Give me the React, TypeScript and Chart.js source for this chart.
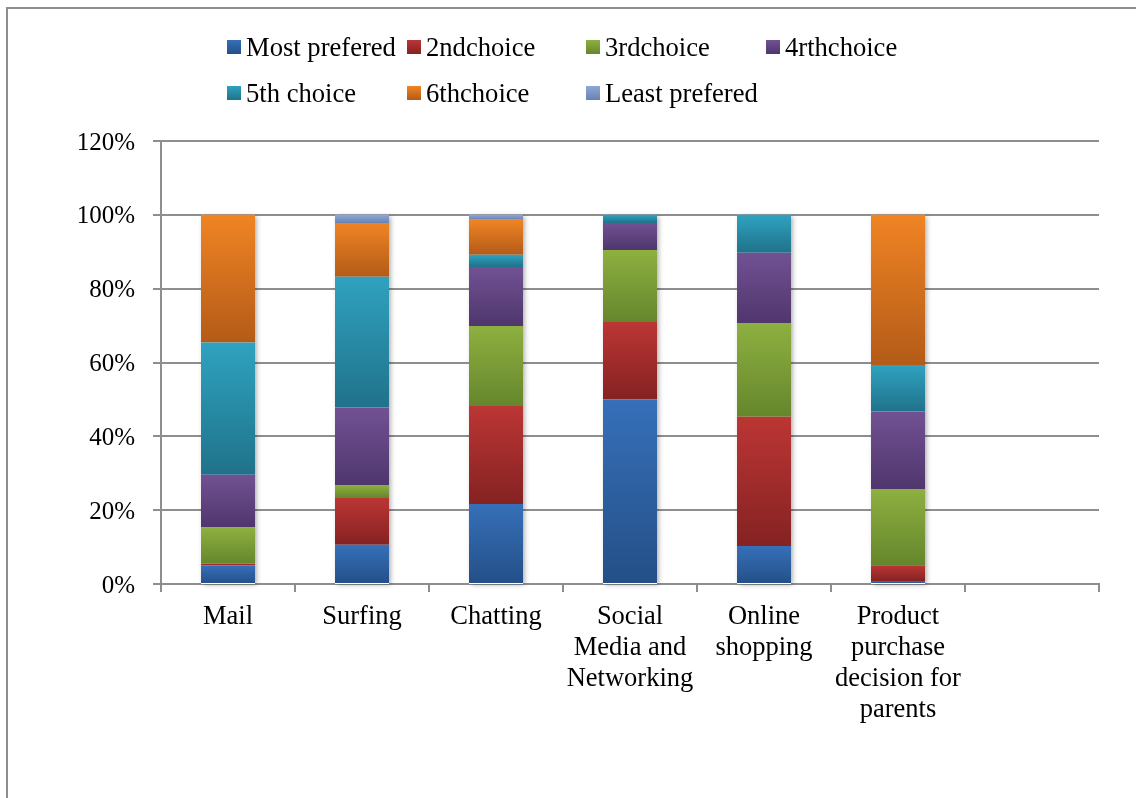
import React, { useEffect, useRef } from "react";
import { Chart, registerables } from "chart.js";

Chart.register(...registerables);

// Activities (last slot is an empty category, as in the original workbook)
const categories: (string | string[])[] = [
  "Mail",
  "Surfing",
  "Chatting",
  ["Social", "Media and", "Networking"],
  ["Online", "shopping"],
  ["Product", "purchase", "decision for", "parents"],
  "",
];

// Share of respondents per preference rank (%)
const mostPrefered = [5, 10.6, 21.7, 50, 10.3, 0.8, null];
const secondChoice = [0.5, 12.7, 26.5, 21, 35, 4.3, null];
const thirdChoice = [9.8, 3.5, 21.7, 19.5, 25.4, 20.6, null];
const fourthChoice = [14.3, 21, 16, 7.3, 19, 21, null];
const fifthChoice = [35.8, 35.4, 3.3, 2.2, 10.3, 12.6, null];
const sixthChoice = [34.6, 14.6, 9.5, 0, 0, 40.7, null];
const leastPrefered = [0, 2.2, 1.3, 0, 0, 0, null];

const seriesNames = [
  "Most prefered",
  "2ndchoice",
  "3rdchoice",
  "4rthchoice",
  "5th choice",
  "6thchoice",
  "Least prefered",
];

const yTicks = [0, 20, 40, 60, 80, 100, 120];

// top / bottom colours of each series' vertical gradient
const palette: [string, string][] = [
  ["#3670b9", "#244f87"],
  ["#bb3634", "#852222"],
  ["#8db040", "#66862c"],
  ["#715193", "#4f366c"],
  ["#2fa2c0", "#20728a"],
  ["#f08424", "#b35b18"],
  ["#8ca8d8", "#6882b3"],
];

const FONT = "'Liberation Serif', 'Times New Roman', serif";
const GRID = "#8e8e8e";

const seriesData = [
  mostPrefered,
  secondChoice,
  thirdChoice,
  fourthChoice,
  fifthChoice,
  sixthChoice,
  leastPrefered,
];

function stackStart(ds: number, idx: number): number {
  let s = 0;
  for (let k = 0; k < ds; k++) s += seriesData[k][idx] ?? 0;
  return s;
}

function stackTotal(idx: number): number {
  return stackStart(seriesData.length, idx);
}

// soft drop shadow behind each full stacked column
const columnShadow = {
  id: "columnShadow",
  beforeDatasetsDraw(chart: any) {
    const y = chart.scales.y;
    const meta = chart.getDatasetMeta(0);
    const ctx = chart.ctx;
    categories.forEach((_, i) => {
      const total = stackTotal(i);
      const el = meta.data[i];
      if (!el || !total) return;
      const top = y.getPixelForValue(total);
      const bottom = y.getPixelForValue(0);
      ctx.save();
      ctx.shadowColor = "rgba(0,0,0,0.35)";
      ctx.shadowBlur = 5;
      ctx.shadowOffsetX = 2;
      ctx.shadowOffsetY = 1;
      ctx.fillStyle = "#ffffff";
      ctx.fillRect(el.x - el.width / 2, top, el.width, bottom - top);
      ctx.restore();
    });
  },
};

// two-row legend laid out in fixed columns above the plot
const gridLegend = {
  id: "gridLegend",
  afterDraw(chart: any) {
    const ctx = chart.ctx;
    const startX = 227;
    const colW = 179.5;
    const rows = [47.5, 93.5];
    const box = 14;
    ctx.save();
    ctx.font = `26.6px ${FONT}`;
    ctx.textBaseline = "middle";
    ctx.textAlign = "left";
    seriesNames.forEach((name, i) => {
      const col = i < 4 ? i : i - 4;
      const row = i < 4 ? 0 : 1;
      const bx = Math.round(startX + col * colW);
      const cy = rows[row];
      const by = Math.round(cy - box / 2 - 0.5);
      const g = ctx.createLinearGradient(0, by, 0, by + box);
      g.addColorStop(0, palette[i][0]);
      g.addColorStop(1, palette[i][1]);
      ctx.fillStyle = g;
      ctx.fillRect(bx, by, box, box);
      ctx.fillStyle = "#000000";
      ctx.fillText(name, bx + 19, cy + 1.5);
    });
    ctx.restore();
  },
};

export default function App() {
  const canvasRef = useRef<HTMLCanvasElement | null>(null);

  useEffect(() => {
    if (!canvasRef.current) return;

    const datasets = seriesData.map((values, di) => ({
      label: seriesNames[di],
      data: values,
      borderWidth: 0,
      categoryPercentage: 1,
      barPercentage: 0.403,
      backgroundColor: (c: any) => {
        const [top, bottom] = palette[di];
        if (c.type !== "data") return top;
        const y = c.chart.scales?.y;
        if (!y) return top;
        const start = stackStart(di, c.dataIndex);
        const end = start + (seriesData[di][c.dataIndex] ?? 0);
        const py0 = y.getPixelForValue(end);
        const py1 = y.getPixelForValue(start);
        if (!isFinite(py0) || !isFinite(py1) || py0 === py1) return top;
        const g = c.chart.ctx.createLinearGradient(0, py0, 0, py1);
        g.addColorStop(0, top);
        g.addColorStop(1, bottom);
        return g;
      },
    }));

    const chart = new Chart(canvasRef.current, {
      type: "bar",
      data: { labels: categories, datasets },
      plugins: [columnShadow, gridLegend],
      options: {
        responsive: false,
        animation: false,
        devicePixelRatio: 1,
        layout: { padding: { left: 0, right: 37, top: 141, bottom: 0 } },
        plugins: {
          legend: { display: false },
          tooltip: { enabled: false },
          title: { display: false },
        },
        scales: {
          x: {
            stacked: true,
            offset: true,
            afterFit: (s: any) => {
              s.height = 214;
            },
            grid: {
              display: true,
              offset: true,
              drawOnChartArea: false,
              drawTicks: true,
              tickLength: 8,
              color: GRID,
              lineWidth: 2,
            },
            border: { display: true, color: GRID, width: 2 },
            ticks: {
              autoSkip: false,
              maxRotation: 0,
              minRotation: 0,
              padding: 10,
              color: "#000000",
              font: { family: FONT, size: 26.5, lineHeight: 31 / 26.5 },
            },
          },
          y: {
            stacked: true,
            min: 0,
            max: 120,
            afterFit: (s: any) => {
              s.width = 161;
            },
            afterBuildTicks: (s: any) => {
              s.ticks = yTicks.map((v) => ({ value: v }));
            },
            grid: {
              color: GRID,
              lineWidth: 2,
              drawTicks: true,
              tickLength: 8,
            },
            border: { display: true, color: GRID, width: 2 },
            ticks: {
              padding: 18,
              labelOffset: 2,
              color: "#000000",
              font: { family: FONT, size: 25 },
              callback: (v: any) => `${v}%`,
            },
          },
        },
      },
    });

    return () => chart.destroy();
  }, []);

  return (
    <div
      style={{
        position: "absolute",
        left: 0,
        top: 0,
        width: 1136,
        height: 798,
        overflow: "hidden",
        background: "#ffffff",
      }}
    >
      <div
        style={{
          position: "absolute",
          left: 6,
          top: 7,
          width: 1300,
          height: 1000,
          border: "2px solid #8e8e8e",
          boxSizing: "border-box",
        }}
      />
      <canvas
        ref={canvasRef}
        width={1136}
        height={798}
        style={{ position: "absolute", left: 0, top: 0, width: 1136, height: 798 }}
      />
    </div>
  );
}
